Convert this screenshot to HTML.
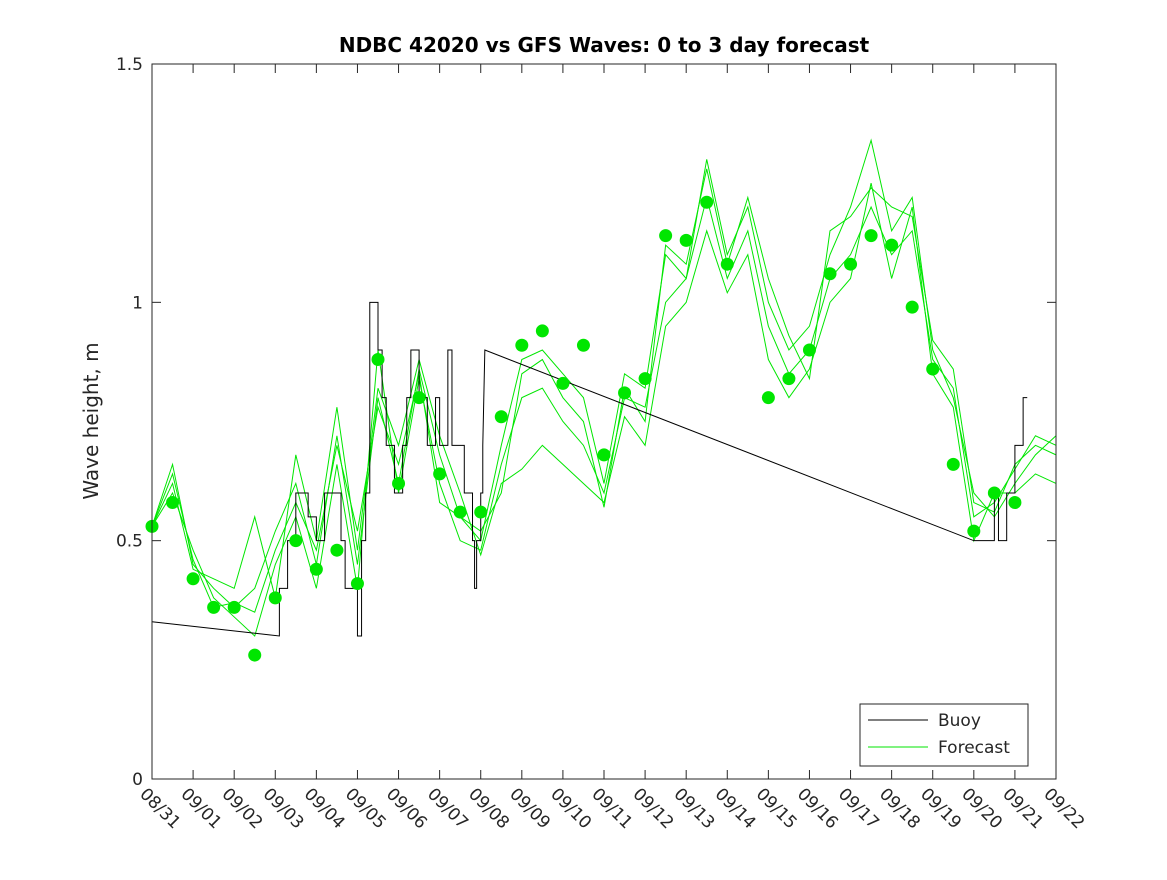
<!DOCTYPE html>
<html><head><meta charset="utf-8"><style>
body{margin:0;background:#fff}
svg text{font-family:"DejaVu Sans","Liberation Sans",sans-serif;fill:#262626}
</style></head><body>
<svg id="chart" width="1167" height="875">
<rect width="1167" height="875" fill="#fff"/>
<text x="604" y="52" text-anchor="middle" font-size="20" font-weight="bold" style="fill:#000">NDBC 42020 vs GFS Waves: 0 to 3 day forecast</text>
<text transform="translate(98,421) rotate(-90)" text-anchor="middle" font-size="20">Wave height, m</text>
<g id="ax"></g><g id="marks"></g>
<rect x="152" y="64" width="904" height="715" fill="none" stroke="#262626" stroke-width="1"/>
<g>
<rect x="860" y="704" width="168" height="62" fill="#fff" stroke="#262626"/>
<line x1="868" y1="720" x2="928" y2="720" stroke="#000"/>
<text x="938" y="726" font-size="17">Buoy</text>
<line x1="868" y1="747" x2="928" y2="747" stroke="#00e600"/>
<text x="938" y="753" font-size="17">Forecast</text>
</g>
</svg>
<script>
const dateLabels=["08/31","09/01","09/02","09/03","09/04","09/05","09/06","09/07","09/08","09/09","09/10","09/11","09/12","09/13","09/14","09/15","09/16","09/17","09/18","09/19","09/20","09/21","09/22"];
const yTicks=[0,0.5,1,1.5];
const yTickLabels=["0","0.5","1","1.5"];
const dots=[0.53,0.58,0.42,0.36,0.36,0.26,0.38,0.50,0.44,0.48,0.41,0.88,0.62,0.80,0.64,0.56,0.56,0.76,0.91,0.94,0.83,0.91,0.68,0.81,0.84,1.14,1.13,1.21,1.08,null,0.80,0.84,0.90,1.06,1.08,1.14,1.12,0.99,0.86,0.66,0.52,0.60,0.58];
const buoyDays=[0,3.1,3.1,3.3,3.3,3.5,3.5,3.8,3.8,4.0,4.0,4.2,4.2,4.6,4.6,4.7,4.7,5.0,5.0,5.1,5.1,5.2,5.2,5.3,5.3,5.5,5.5,5.6,5.6,5.7,5.7,5.9,5.9,6.1,6.1,6.2,6.2,6.3,6.3,6.5,6.5,6.7,6.7,6.9,6.9,7.0,7.0,7.2,7.2,7.3,7.3,7.6,7.6,7.8,7.8,7.85,7.85,7.9,7.9,8.0,8.0,8.05,8.05,8.1,20.0,20.5,20.5,20.6,20.6,20.8,20.8,21.0,21.0,21.2,21.2,21.3];
const buoyVals=[0.33,0.30,0.40,0.40,0.50,0.50,0.60,0.60,0.55,0.55,0.50,0.50,0.60,0.60,0.50,0.50,0.40,0.40,0.30,0.30,0.50,0.50,0.60,0.60,1.0,1.0,0.9,0.9,0.8,0.8,0.7,0.7,0.6,0.6,0.7,0.7,0.8,0.8,0.9,0.9,0.8,0.8,0.7,0.7,0.8,0.8,0.7,0.7,0.9,0.9,0.7,0.7,0.6,0.6,0.5,0.5,0.4,0.4,0.5,0.5,0.6,0.6,0.7,0.9,0.50,0.50,0.6,0.6,0.5,0.5,0.6,0.6,0.7,0.7,0.8,0.8];
const f1=[0.53,0.66,0.45,0.40,0.36,0.40,0.52,0.62,0.45,0.72,0.45,0.80,0.62,0.86,0.68,0.55,0.50,0.70,0.88,0.90,0.85,0.80,0.62,0.85,0.82,1.10,1.05,1.30,1.10,1.20,1.00,0.90,0.95,1.10,1.20,1.34,1.15,1.22,0.90,0.80,0.60,0.55,0.62,0.68,0.72];
const f2=[0.53,0.60,0.48,0.38,0.34,0.30,0.45,0.55,0.40,0.66,0.40,0.90,0.60,0.84,0.62,0.50,0.48,0.66,0.80,0.82,0.75,0.70,0.60,0.80,0.78,1.00,1.05,1.22,1.05,1.15,0.95,0.85,0.90,1.05,1.10,1.20,1.10,1.15,0.88,0.82,0.55,0.58,0.65,0.72,0.70];
const f3=[0.53,0.62,0.44,0.42,0.40,0.55,0.38,0.68,0.50,0.78,0.48,0.82,0.70,0.88,0.72,0.60,0.47,0.62,0.65,0.70,0.66,0.62,0.58,0.76,0.70,0.95,1.00,1.15,1.02,1.10,0.88,0.80,0.86,1.00,1.05,1.25,1.05,1.20,0.85,0.78,0.50,0.60,0.60,0.64,0.62];
const f4=[0.53,0.64,0.46,0.36,0.37,0.35,0.48,0.58,0.48,0.70,0.52,0.78,0.66,0.85,0.58,0.55,0.52,0.60,0.85,0.88,0.80,0.75,0.57,0.82,0.75,1.12,1.08,1.28,1.08,1.22,1.05,0.93,0.84,1.15,1.18,1.24,1.20,1.18,0.92,0.86,0.58,0.56,0.66,0.70,0.68];
const NS="http://www.w3.org/2000/svg";
const X=d=>152+d*(904/22), Y=v=>779-v*(715/1.5);
const ax=document.getElementById('ax'), mk=document.getElementById('marks');
function el(t,a,p){const e=document.createElementNS(NS,t);for(const k in a)e.setAttribute(k,a[k]);p.appendChild(e);return e;}
dateLabels.forEach((l,i)=>{
  const x=X(i);
  const t1=el('line',{x1:x,y1:779,x2:x,y2:770,stroke:'#262626'},ax);
  
  
  const t2=el('line',{x1:x,y1:64,x2:x,y2:73,stroke:'#262626'},ax);
  
  
  const tx=el('text',{x:0,y:0,'font-size':17,transform:`translate(${x-13},${795}) rotate(45)`},ax);
  tx.textContent=l;
  
  
});
yTicks.forEach((v,i)=>{
  const y=Y(v);
  const a=el('line',{x1:152,y1:y,x2:161,y2:y,stroke:'#262626'},ax);
  
  
  const b=el('line',{x1:1056,y1:y,x2:1047,y2:y,stroke:'#262626'},ax);
  
  
  const t=el('text',{x:143,y:y+6,'text-anchor':'end','font-size':17},ax);
  t.textContent=yTickLabels[i];
  
  
});
[f1,f2,f3,f4].forEach((s,k)=>{
  const p=el('polyline',{points:s.map((v,i)=>X(i*0.5)+','+Y(v)).join(' '),fill:'none',stroke:'#00e600','stroke-width':1},mk);
  
  
});
const bl=el('polyline',{points:buoyDays.map((d,i)=>X(d)+','+Y(buoyVals[i])).join(' '),fill:'none',stroke:'#000','stroke-width':1},mk);


dots.forEach((v,i)=>{
  if(v===null)return;
  const c=el('circle',{cx:X(i*0.5),cy:Y(v),r:6.5,fill:'#00e600'},mk);
  
  
});
</script>
</body></html>
